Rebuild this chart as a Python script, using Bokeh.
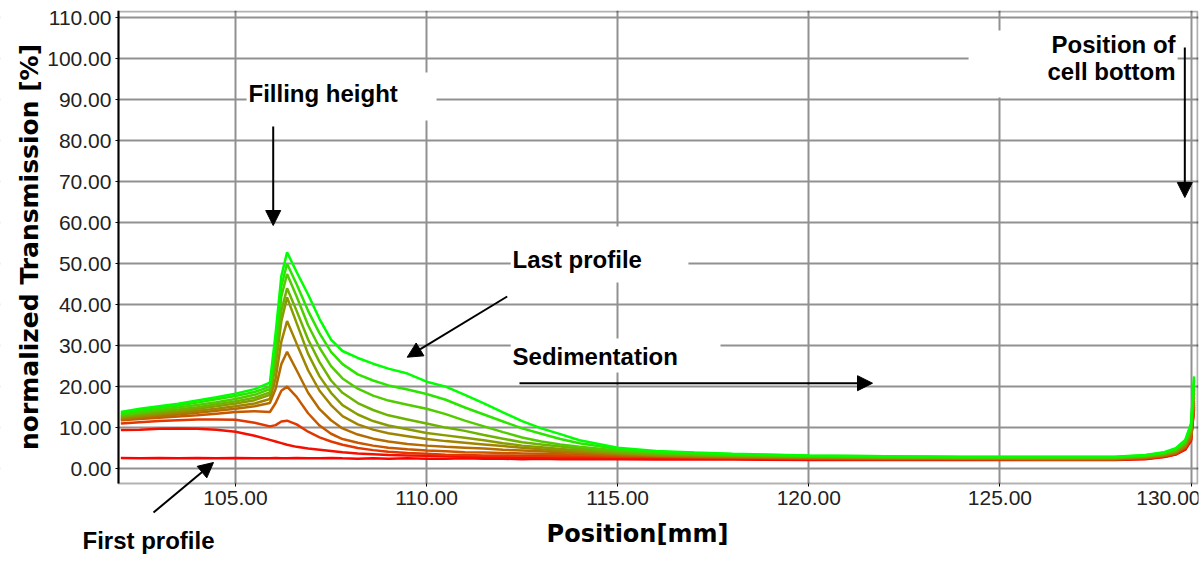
from bokeh.plotting import figure
from bokeh.models import (Range1d, PrintfTickFormatter, Label, Arrow, NormalHead,
                          BoxAnnotation)
from bokeh.embed import file_html
from bokeh.resources import INLINE

# ---------------- data ----------------
X = [102.0, 102.5, 103.0, 103.5, 104.0, 104.5, 105.0, 105.5, 105.9, 106.05,
     106.2, 106.35, 106.6, 106.9, 107.2, 107.5, 107.8, 108.2, 108.6, 109.0,
     109.5, 110.0, 110.5, 111.0, 111.5, 112.0, 112.5, 113.0, 113.5, 114.0,
     115.0, 116.0, 117.0, 118.0, 120.0, 122.0, 124.0, 126.0, 128.0, 128.8,
     129.3, 129.6, 129.85, 130.0, 130.08]

P0 = [2.6, 2.5, 2.6, 2.5, 2.6, 2.5, 2.6, 2.5, 2.5, 2.6,
      2.5, 2.5, 2.6, 2.5, 2.5, 2.6, 2.5, 2.4, 2.5, 2.4,
      2.5, 2.4, 2.4, 2.5, 2.4, 2.4, 2.3, 2.4, 2.3, 2.3,
      2.3, 2.2, 2.2, 2.2, 2.1, 2.1, 2.1, 2.1, 2.1, 2.3,
      2.8, 3.4, 4.6, 6.8, 14.5]
P1 = [9.4, 9.5, 9.7, 9.8, 9.7, 9.5, 9.0, 8.0, 7.0, 6.6,
      6.2, 5.8, 5.3, 4.9, 4.6, 4.3, 4.0, 3.7, 3.5, 3.3,
      3.2, 3.1, 3.0, 2.9, 2.8, 2.8, 2.7, 2.7, 2.6, 2.6,
      2.5, 2.5, 2.4, 2.4, 2.3, 2.2, 2.2, 2.2, 2.2, 2.4,
      2.9, 3.5, 4.8, 7.0, 15.0]
P2 = [11.0, 11.3, 11.6, 11.8, 12.0, 12.0, 11.9, 11.2, 10.3, 10.6,
      11.5, 11.7, 10.8, 9.0, 7.6, 6.6, 5.8, 5.0, 4.5, 4.1,
      3.8, 3.6, 3.4, 3.3, 3.2, 3.2, 3.1, 3.1, 3.0, 3.0,
      2.9, 2.8, 2.7, 2.6, 2.4, 2.3, 2.3, 2.2, 2.2, 2.5,
      3.0, 3.6, 5.0, 7.2, 15.5]
P3 = [11.8, 12.1, 12.4, 12.7, 13.0, 13.4, 13.8, 14.0, 13.8, 16.0,
      19.0, 20.0, 17.5, 13.5, 10.5, 8.5, 7.2, 6.3, 5.6, 5.1,
      4.7, 4.4, 4.2, 4.0, 3.9, 3.8, 3.7, 3.6, 3.5, 3.4,
      3.2, 3.0, 2.8, 2.7, 2.5, 2.4, 2.4, 2.3, 2.3, 2.6,
      3.1, 3.8, 5.2, 7.5, 16.0]
P4 = [12.0, 12.4, 12.8, 13.2, 13.6, 14.1, 14.6, 15.2, 16.0, 19.5,
      25.5, 28.5, 24.0, 18.5, 14.5, 11.8, 9.8, 8.3, 7.3, 6.6,
      6.0, 5.6, 5.3, 5.1, 4.9, 4.6, 4.4, 4.2, 4.0, 3.8,
      3.4, 3.1, 2.9, 2.8, 2.6, 2.5, 2.4, 2.4, 2.4, 2.7,
      3.2, 3.9, 5.4, 8.0, 16.5]
P5 = [12.3, 12.7, 13.2, 13.6, 14.1, 14.6, 15.2, 15.9, 17.0, 22.0,
      31.0, 36.0, 30.5, 24.0, 19.0, 15.5, 12.8, 10.8, 9.5, 8.6,
      7.9, 7.2, 6.7, 6.3, 5.9, 5.5, 5.1, 4.7, 4.4, 4.1,
      3.6, 3.2, 3.0, 2.9, 2.7, 2.6, 2.5, 2.5, 2.5, 2.8,
      3.3, 4.0, 5.6, 8.5, 17.5]
P6 = [12.5, 13.0, 13.5, 14.0, 14.6, 15.2, 15.9, 16.7, 18.0, 25.0,
      36.0, 41.8, 35.5, 28.0, 22.5, 18.5, 15.5, 13.2, 11.6, 10.5,
      9.6, 8.7, 8.1, 7.5, 6.9, 6.2, 5.6, 5.2, 4.8, 4.5,
      3.8, 3.4, 3.2, 3.0, 2.8, 2.7, 2.6, 2.5, 2.5, 2.9,
      3.4, 4.2, 6.0, 9.0, 18.5]
P7 = [12.8, 13.4, 13.9, 14.4, 15.0, 15.7, 16.4, 17.3, 18.6, 27.0,
      38.5, 44.0, 38.5, 31.5, 26.0, 21.5, 18.5, 16.0, 14.3, 13.0,
      12.0, 11.0, 10.0, 9.2, 8.2, 7.3, 6.4, 5.9, 5.4, 4.9,
      4.1, 3.6, 3.3, 3.1, 2.9, 2.7, 2.6, 2.6, 2.6, 3.0,
      3.6, 4.4, 6.2, 9.5, 19.5]
P8 = [13.1, 13.7, 14.3, 14.9, 15.5, 16.2, 17.0, 18.0, 19.4, 29.0,
      42.0, 47.5, 42.0, 35.0, 29.5, 25.0, 22.0, 19.5, 17.8, 16.6,
      15.6, 14.6, 13.3, 11.7, 10.3, 8.9, 7.6, 6.6, 5.9, 5.3,
      4.4, 3.8, 3.5, 3.3, 3.0, 2.8, 2.7, 2.7, 2.7, 3.1,
      3.7, 4.6, 6.5, 10.0, 20.5]
P9 = [13.4, 14.1, 14.8, 15.4, 16.1, 16.9, 17.7, 18.7, 20.0, 31.0,
      44.5, 50.0, 45.0, 38.5, 33.0, 28.5, 25.5, 23.0, 21.5, 20.3,
      19.3, 18.2, 16.8, 14.9, 13.2, 11.5, 9.8, 8.5, 7.2, 6.2,
      4.8, 4.1, 3.8, 3.5, 3.1, 3.0, 2.8, 2.8, 2.8, 3.2,
      3.9, 4.8, 6.8, 10.5, 21.5]
P10 = [13.8, 14.6, 15.2, 15.8, 16.6, 17.4, 18.3, 19.4, 21.0, 33.0,
       47.0, 52.8, 48.0, 42.5, 36.5, 31.5, 28.7, 27.0, 25.6, 24.4,
       23.2, 21.2, 20.0, 18.0, 15.9, 13.7, 11.6, 9.8, 8.4, 6.9,
       5.1, 4.3, 3.9, 3.6, 3.2, 3.0, 2.9, 2.9, 2.9, 3.3,
       4.0, 5.0, 7.0, 11.0, 22.5]

PROFILES = [P0, P1, P2, P3, P4, P5, P6, P7, P8, P9, P10]
COLORS = ["#ff0000", "#f41000", "#e03800", "#c85800", "#b46c00", "#a08400",
          "#889c00", "#6cb400", "#50cc00", "#2ce400", "#00ff00"]

X_TICKS = [105, 110, 115, 120, 125, 130]
Y_TICKS = [0, 10, 20, 30, 40, 50, 60, 70, 80, 90, 100, 110]

X_LABEL = "Position[mm]"
Y_LABEL = "normalized Transmission [%]"

# plot box (data units) and the full drawing area around it
BOX_L, BOX_R, BOX_B, BOX_T = 101.939, 130.196, -3.65, 111.83
AREA_L, AREA_B = 98.852, -26.84

# ---------------- figure ----------------
p = figure(width=1200, height=578, output_backend="svg", toolbar_location=None,
           x_range=Range1d(AREA_L, BOX_R), y_range=Range1d(AREA_B, BOX_T),
           min_border_left=0, min_border_right=2, min_border_top=10,
           min_border_bottom=0, background_fill_color="white",
           border_fill_color="white")
p.outline_line_color = None

p.xaxis.ticker = X_TICKS
p.yaxis.ticker = Y_TICKS
p.xaxis.formatter = PrintfTickFormatter(format="%.2f")
p.yaxis.formatter = PrintfTickFormatter(format="%.2f")
for ax in (p.xaxis, p.yaxis):
    ax.axis_line_color = "black"
    ax.axis_line_width = 2
    ax.major_tick_line_color = "black"
    ax.major_tick_in = 0
    ax.major_tick_out = 3
    ax.minor_tick_line_color = None
    ax.major_label_text_font = "Liberation Sans"
    ax.major_label_text_font_size = "21px"
    ax.major_label_text_color = "#222222"
    ax.major_label_standoff = 4
    ax.axis_label_text_font = "DejaVu Sans"
    ax.axis_label_text_font_style = "bold"
    ax.axis_label_text_color = "black"
p.xaxis.axis_label = X_LABEL
p.yaxis.axis_label = Y_LABEL
p.xaxis.axis_label_text_font_size = "24px"
p.yaxis.axis_label_text_font_size = "25px"
p.xaxis.axis_label_standoff = 12
p.yaxis.axis_label_standoff = 0
p.xaxis.fixed_location = BOX_B
p.yaxis.fixed_location = BOX_L
p.xaxis.axis_line_color = None
p.xaxis.bounds = (101.0, 130.04)
p.yaxis.bounds = (BOX_B, BOX_T)

p.grid.grid_line_color = "#919191"
p.grid.grid_line_width = 2
p.grid.level = "image"

# white areas outside the plot box (hide the grid there)
p.add_layout(BoxAnnotation(left=AREA_L - 5, right=BOX_L, bottom=AREA_B - 5,
                           top=BOX_T + 5, fill_color="white", fill_alpha=1.0,
                           line_color=None, level="underlay"))
p.add_layout(BoxAnnotation(left=AREA_L - 5, right=BOX_R + 5, bottom=AREA_B - 5,
                           top=BOX_B, fill_color="white", fill_alpha=1.0,
                           line_color=None, level="underlay"))

# profiles, first (red) to last (green)
for ys, c in zip(PROFILES, COLORS):
    p.line(X, ys, line_color=c, line_width=2.5)

# plot box frame
p.add_layout(BoxAnnotation(left=BOX_L, right=130.17, bottom=BOX_B, top=111.59,
                           fill_color=None, fill_alpha=0.0,
                           line_color="black", line_width=2))

# white boxes behind annotations
for l, r, b, t in [(105.29, 110.26, 84.97, 96.69),
                   (112.20, 116.85, 45.42, 59.10),
                   (112.20, 117.69, 23.45, 31.75),
                   (124.18, 129.65, 90.59, 106.95)]:
    p.add_layout(BoxAnnotation(left=l, right=r, bottom=b, top=t,
                               fill_color="white", fill_alpha=1.0,
                               line_color=None))

def add_text(txt, x, y, align="left"):
    p.add_layout(Label(x=x, y=y, text=txt, text_font="Liberation Sans",
                       text_font_size="24px", text_font_style="bold",
                       text_color="black", text_align=align,
                       text_baseline="alphabetic"))

add_text("Filling height", 105.34, 91.57)
add_text("Last profile", 112.25, 51.04)
add_text("Sedimentation", 112.25, 27.36)
add_text("Position of", 129.595, 103.53, "right")
add_text("cell bottom", 129.595, 96.94, "right")
add_text("First profile", 100.997, -17.56)

def add_arrow(x0, y0, x1, y1):
    p.add_layout(Arrow(end=NormalHead(size=15, fill_color="black",
                                      line_color="black"),
                       x_start=x0, y_start=y0, x_end=x1, y_end=y1,
                       line_color="black", line_width=2))

add_arrow(105.987, 83.51, 105.987, 59.34)
add_arrow(112.109, 42.01, 109.493, 27.19)
add_arrow(112.431, 20.84, 121.667, 20.84)
add_arrow(129.838, 102.8, 129.838, 66.18)
add_arrow(102.855, -10.73, 104.425, 1.48)

open("out.html", "w").write(file_html(p, INLINE))
